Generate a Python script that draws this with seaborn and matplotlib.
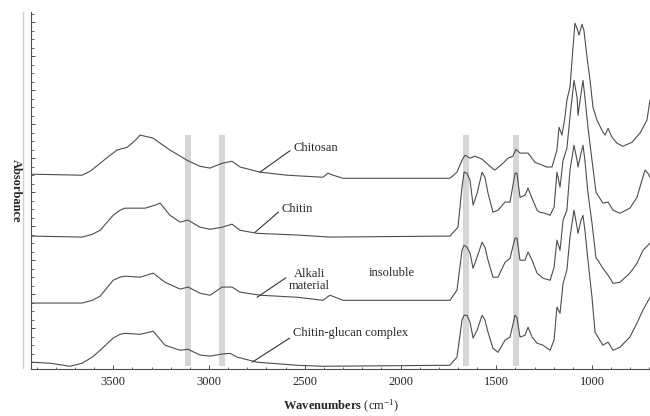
import matplotlib
matplotlib.use("Agg")
import matplotlib.pyplot as plt
from matplotlib.lines import Line2D
from matplotlib.ticker import MultipleLocator
import seaborn as sns
import pandas as pd

# FTIR spectra (wavenumber cm-1, stacked absorbance)
chitosan_wn = [3930, 3663, 3620, 3569, 3525, 3480, 3428, 3390, 3360, 3292, 3250, 3204, 3115,
               3047, 2995, 2932, 2880, 2838, 2734, 2593, 2405, 2379, 2352, 2300, 1742, 1705,
               1679, 1663, 1637, 1611, 1574, 1522, 1507, 1465, 1439, 1413, 1397, 1376, 1334,
               1298, 1235, 1209, 1183, 1172, 1157, 1141, 1131, 1115, 1099, 1089, 1078, 1068,
               1052, 1042, 1026, 1010, 995, 974, 948, 932, 916, 896, 869, 838, 791, 749, 713,
               697]
chitosan_ab = [5.53, 5.50, 5.62, 5.85, 6.05, 6.24, 6.32, 6.50, 6.68, 6.59, 6.42, 6.24, 5.94,
               5.76, 5.71, 5.85, 5.91, 5.74, 5.59, 5.50, 5.44, 5.56, 5.50, 5.41, 5.41, 5.59,
               5.94, 6.09, 6.00, 6.06, 5.97, 5.71, 5.65, 5.85, 6.00, 6.06, 6.26, 6.15, 6.15,
               5.88, 5.74, 5.74, 6.24, 6.91, 6.68, 7.21, 7.71, 8.09, 9.26, 9.97, 9.82, 9.62,
               9.94, 9.76, 8.97, 8.29, 7.50, 7.12, 6.82, 6.68, 6.88, 6.62, 6.44, 6.35, 6.47,
               6.74, 7.12, 7.71]

chitin_wn = [3930, 3663, 3610, 3569, 3501, 3465, 3439, 3334, 3282, 3256, 3204, 3151, 3110,
             3047, 2995, 2932, 2880, 2838, 2749, 2540, 2368, 1742, 1700, 1679, 1668, 1653,
             1637, 1621, 1600, 1574, 1559, 1543, 1517, 1491, 1454, 1428, 1402, 1392, 1376,
             1350, 1334, 1313, 1287, 1272, 1245, 1219, 1198, 1183, 1167, 1151, 1131, 1115,
             1094, 1078, 1073, 1057, 1047, 1037, 1021, 1000, 979, 969, 943, 916, 890, 854,
             802, 765, 739, 723, 708, 697]
chitin_ab = [3.71, 3.68, 3.76, 3.88, 4.32, 4.47, 4.53, 4.53, 4.62, 4.68, 4.32, 4.12, 4.18,
             3.97, 3.91, 3.97, 4.06, 3.88, 3.79, 3.74, 3.68, 3.71, 3.97, 5.15, 5.59, 5.56,
             5.35, 4.62, 4.97, 5.59, 5.44, 4.97, 4.41, 4.47, 4.71, 4.71, 5.56, 5.56, 4.85,
             4.91, 5.12, 4.82, 4.47, 4.41, 4.38, 4.32, 4.56, 5.59, 5.15, 5.94, 6.29, 7.21,
             8.29, 7.79, 7.26, 7.91, 8.29, 7.79, 6.91, 5.94, 5.00, 4.91, 4.68, 4.71, 4.47,
             4.38, 4.53, 4.85, 5.35, 5.65, 5.56, 5.44]

alkali_wn = [3930, 3663, 3610, 3569, 3501, 3465, 3439, 3360, 3292, 3230, 3151, 3110, 3047,
             2995, 2932, 2880, 2838, 2734, 2540, 2405, 2384, 2368, 2300, 1742, 1705, 1679,
             1668, 1653, 1637, 1621, 1600, 1574, 1559, 1543, 1517, 1491, 1454, 1428, 1402,
             1392, 1376, 1350, 1334, 1313, 1287, 1256, 1219, 1198, 1183, 1167, 1151, 1131,
             1115, 1094, 1078, 1073, 1057, 1047, 1037, 1021, 1000, 979, 969, 943, 916, 890,
             854, 802, 765, 734, 697]
alkali_ab = [1.74, 1.74, 1.82, 1.94, 2.41, 2.50, 2.53, 2.50, 2.62, 2.35, 2.15, 2.21, 2.03,
             1.97, 2.21, 2.21, 2.06, 1.97, 1.91, 1.82, 1.91, 1.97, 1.82, 1.82, 2.12, 3.29,
             3.44, 3.38, 3.21, 2.76, 3.09, 3.53, 3.38, 3.00, 2.50, 2.50, 2.94, 3.06, 3.65,
             3.65, 3.00, 3.00, 3.24, 3.00, 2.62, 2.47, 2.41, 2.79, 3.59, 3.29, 4.18, 4.47,
             5.65, 6.38, 5.94, 5.74, 6.15, 6.38, 5.94, 4.97, 4.09, 3.06, 3.00, 2.76, 2.56,
             2.32, 2.35, 2.62, 2.91, 3.29, 3.50]

glucan_wn = [3930, 3830, 3726, 3663, 3610, 3569, 3501, 3465, 3439, 3360, 3292, 3230, 3151,
             3110, 3047, 2995, 2932, 2890, 2854, 2749, 2540, 2405, 1742, 1705, 1679, 1668,
             1653, 1637, 1621, 1600, 1574, 1559, 1543, 1517, 1491, 1454, 1428, 1402, 1392,
             1376, 1350, 1334, 1313, 1287, 1256, 1219, 1198, 1183, 1167, 1151, 1131, 1115,
             1094, 1078, 1073, 1057, 1047, 1037, 1021, 1000, 984, 969, 943, 916, 890, 854,
             802, 765, 734, 697]
glucan_ab = [0.00, -0.03, -0.12, -0.03, 0.15, 0.35, 0.71, 0.82, 0.85, 0.82, 0.91, 0.50, 0.35,
             0.38, 0.21, 0.18, 0.24, 0.26, 0.15, 0.00, -0.09, -0.12, -0.09, 0.15, 1.24, 1.38,
             1.38, 1.18, 0.71, 0.94, 1.38, 1.24, 0.88, 0.41, 0.29, 0.65, 0.74, 1.38, 1.32,
             0.74, 0.79, 1.03, 0.74, 0.56, 0.50, 0.35, 0.65, 1.62, 1.44, 2.32, 2.71, 3.68,
             4.47, 3.97, 3.79, 4.18, 4.32, 3.88, 3.00, 1.91, 0.88, 0.74, 0.50, 0.59, 0.35,
             0.44, 0.74, 1.15, 1.53, 1.91]

band_centers = [3110, 2934, 1658, 1395]

plt.rcParams["figure.dpi"] = 100
sns.set_style("ticks")
plt.rcParams["font.family"] = ["Liberation Serif", "DejaVu Serif"]
plt.rcParams["mathtext.fontset"] = "custom"
plt.rcParams["mathtext.rm"] = "Liberation Serif"
plt.rcParams["mathtext.bf"] = "Liberation Serif:bold"
plt.rcParams["mathtext.it"] = "Liberation Serif:italic"

fig = plt.figure(figsize=(6.5, 4.16))
ax = fig.add_axes([31 / 650, 1 - 369 / 416, 619 / 650, 357 / 416])

line_col = "#4d4d4d"

# grey marker bands
for c in band_centers:
    ax.axvspan(c - 15, c + 15, ymin=0.008, ymax=0.655, color="#d6d6d6", lw=0, zorder=0)

spectra = {
    "Chitosan": (chitosan_wn, chitosan_ab),
    "Chitin": (chitin_wn, chitin_ab),
    "Alkali insoluble material": (alkali_wn, alkali_ab),
    "Chitin-glucan complex": (glucan_wn, glucan_ab),
}
for name, (wn, ab) in spectra.items():
    df = pd.DataFrame({"wn": wn, "ab": ab})
    sns.lineplot(data=df, x="wn", y="ab", ax=ax, color=line_col, lw=0.8,
                 sort=False, estimator=None, zorder=2)

ax.set_xlim(3930, 697)
ax.set_ylim(-0.2, 10.3)

ax.xaxis.set_major_locator(MultipleLocator(500))
ax.xaxis.set_minor_locator(MultipleLocator(100))
ax.yaxis.set_major_locator(MultipleLocator(1))
ax.yaxis.set_minor_locator(MultipleLocator(0.25))
ax.set_yticklabels([])
ax.tick_params(axis="both", which="major", direction="in", length=3, width=0.7,
               color=line_col, labelsize=9, pad=5)
ax.tick_params(axis="both", which="minor", direction="in", length=1.8, width=0.6,
               color=line_col)

for s in ["top", "right"]:
    ax.spines[s].set_visible(False)
for s in ["left", "bottom"]:
    ax.spines[s].set_color(line_col)
    ax.spines[s].set_linewidth(0.8)

ax.set_xlabel(r"$\mathbf{Wavenumbers}$ (cm$^{-1}$)", fontsize=9, labelpad=7)
ax.set_ylabel("Absorbance", fontsize=9, fontweight="bold", rotation=270,
              labelpad=10, va="bottom")

arrow = dict(arrowstyle="-", color="#333333", lw=0.8, shrinkA=0, shrinkB=0)
ax.annotate("Chitosan", xy=(2734, 5.59), xytext=(2560, 6.29), fontsize=9,
            ha="left", va="center", arrowprops=dict(arrow, relpos=(0, 0.5)))
ax.annotate("Chitin", xy=(2760, 3.82), xytext=(2620, 4.50), fontsize=9,
            ha="left", va="center", arrowprops=dict(arrow, relpos=(0, 0.5)))
ax.annotate("Alkali\nmaterial", xy=(2749, 1.91), xytext=(2582, 2.41), fontsize=9,
            ha="left", va="center", multialignment="center", linespacing=1.0,
            arrowprops=dict(arrow, relpos=(0.05, 0.75)))
ax.text(2165, 2.62, "insoluble", fontsize=9, ha="left", va="center")
ax.annotate("Chitin-glucan complex", xy=(2775, 0.0), xytext=(2561, 0.85), fontsize=9,
            ha="left", va="center", arrowprops=dict(arrow, relpos=(-0.03, 0.1)))

fig.add_artist(Line2D([23 / 650, 23 / 650], [1 - 12 / 416, 1 - 368 / 416],
                      color="#d0d0d0", lw=1))

fig.savefig("out.png", dpi=100)
